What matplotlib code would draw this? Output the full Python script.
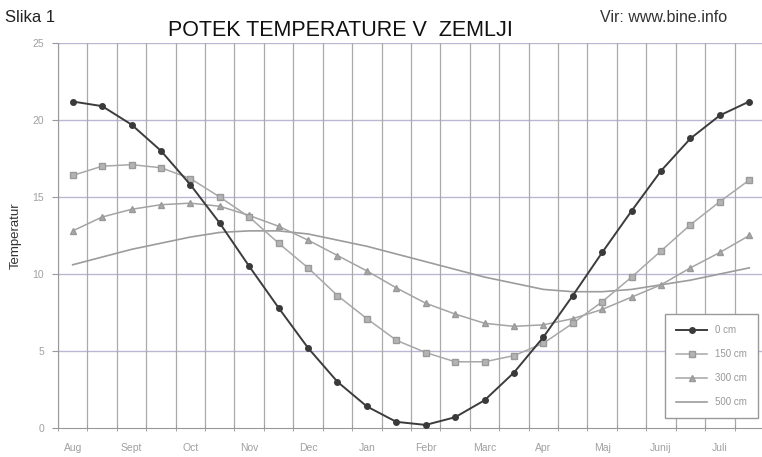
import numpy as np
import matplotlib
matplotlib.use("Agg")
import matplotlib.pyplot as plt

plt.rcParams['font.family'] = ['Liberation Sans', 'DejaVu Sans']

# Half-month categories, Aug .. Jul (24 points)
months = ["Aug", "Sept", "Oct", "Nov", "Dec", "Jan", "Febr", "Marc",
          "Apr", "Maj", "Junij", "Juli"]

# Temperature at depth
t_0cm = [21.2, 20.9, 19.7, 18.0, 15.8, 13.3, 10.5, 7.8, 5.2, 3.0, 1.4, 0.4,
         0.2, 0.7, 1.8, 3.6, 5.9, 8.6, 11.4, 14.1, 16.7, 18.8, 20.3, 21.2]
t_150cm = [16.4, 17.0, 17.1, 16.9, 16.2, 15.0, 13.7, 12.0, 10.4, 8.6, 7.1, 5.7,
           4.9, 4.3, 4.3, 4.7, 5.5, 6.8, 8.2, 9.8, 11.5, 13.2, 14.7, 16.1]
t_300cm = [12.8, 13.7, 14.2, 14.5, 14.6, 14.4, 13.8, 13.1, 12.2, 11.2, 10.2, 9.1,
           8.1, 7.4, 6.8, 6.6, 6.7, 7.1, 7.7, 8.5, 9.3, 10.4, 11.4, 12.5]
t_500cm = [10.6, 11.1, 11.6, 12.0, 12.4, 12.7, 12.8, 12.8, 12.6, 12.2, 11.8, 11.3,
           10.8, 10.3, 9.8, 9.4, 9.0, 8.85, 8.85, 9.0, 9.3, 9.6, 10.0, 10.4]

x = np.arange(len(t_0cm))

fig = plt.figure(figsize=(7.62, 4.57), dpi=100)
ax = fig.add_axes([58 / 762, 29 / 457, 706 / 762, 385 / 457])

# grid
for yv in [5, 10, 15, 20, 25]:
    ax.axhline(yv, color='#b8b8d6', lw=1.0, zorder=0)
for xv in np.arange(-0.5, 24, 1.0):
    ax.axvline(xv, color='#aaaaaa', lw=0.9, zorder=0)

ax.plot(x, t_500cm, color='#9c9c9c', lw=1.2, label='500 cm', zorder=2)
ax.plot(x, t_300cm, color='#a4a4a4', lw=1.1, marker='^', ms=4,
        mfc='#a8a8a8', mec='#999999', label='300 cm', zorder=3)
ax.plot(x, t_150cm, color='#a8a8a8', lw=1.1, marker='s', ms=4.5,
        mfc='#b4b4b4', mec='#9a9a9a', label='150 cm', zorder=3)
ax.plot(x, t_0cm, color='#3c3c3c', lw=1.4, marker='o', ms=4,
        mfc='#3a3a3a', mec='#3a3a3a', label='0 cm', zorder=4)

ax.set_xlim(-0.5, 23.5)
ax.set_ylim(0, 25)

for s in ['top', 'right']:
    ax.spines[s].set_visible(False)
ax.spines['left'].set_color('#999999')
ax.spines['bottom'].set_color('#999999')

ax.set_yticks([0, 5, 10, 15, 20, 25])
ax.tick_params(axis='y', labelsize=7.5, labelcolor='#a0a0a0', color='#999999',
               length=4, direction='out', pad=6)

ax.set_xticks(np.arange(-0.5, 24, 1.0), minor=True)
ax.set_xticks(np.arange(0, 24, 2))
ax.set_xticklabels(months)
ax.tick_params(axis='x', which='major', length=0, labelsize=7.5,
               labelcolor='#a0a0a0', pad=11)
ax.tick_params(axis='x', which='minor', length=5, direction='inout',
               color='#999999')

ax.set_ylabel('Temperatur', fontsize=9.5, color='#333333', labelpad=8)

handles, labels = ax.get_legend_handles_labels()
order = [3, 2, 1, 0]
leg = ax.legend([handles[i] for i in order], [labels[i] for i in order],
                loc='lower right', bbox_to_anchor=(0.991, 0.026),
                fontsize=7, labelspacing=1.45, handlelength=3.2,
                borderpad=1.1, fancybox=False, framealpha=1,
                edgecolor='#999999', borderaxespad=0)
for t in leg.get_texts():
    t.set_color('#999999')

fig.text(5 / 762, 1 - 18 / 457, 'Slika 1', fontsize=12, va='center',
         ha='left', color='#222222')
fig.text(340 / 762, 1 - 30 / 457, 'POTEK TEMPERATURE V  ZEMLJI', fontsize=15.5,
         va='center', ha='center', color='#111111')
fig.text(600 / 762, 1 - 18 / 457, 'Vir: www.bine.info', fontsize=11.5,
         va='center', ha='left', color='#333333')

fig.savefig('out.png', dpi=100)
